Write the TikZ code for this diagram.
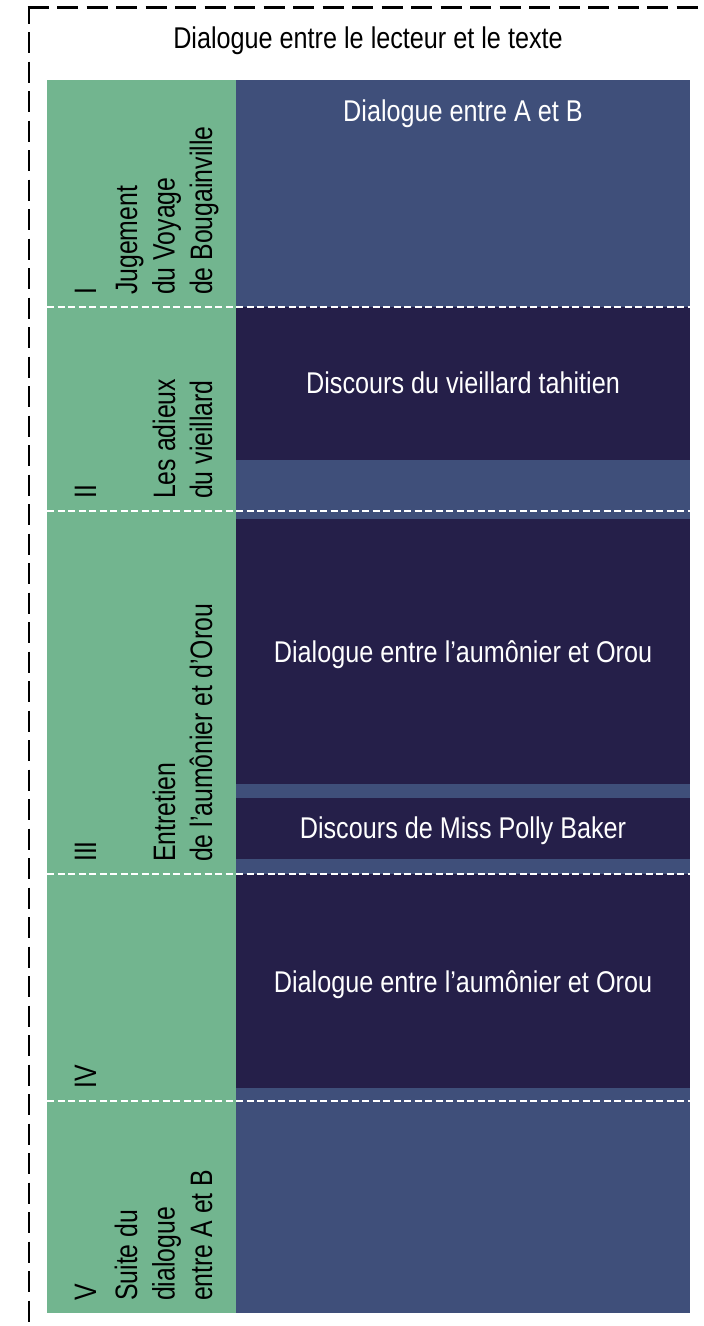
\documentclass[tikz,border=0pt]{standalone}
\usepackage{fontspec}
\setmainfont{Liberation Sans}
\newfontfamily\condfont[FakeStretch=0.84]{Liberation Sans}
\newfontfamily\labfont[FakeStretch=0.8]{Liberation Sans}
\definecolor{colgreen}{RGB}{114,181,143}
\definecolor{colblue}{RGB}{63,79,122}
\definecolor{coldark}{RGB}{37,31,73}
\begin{document}
\begin{tikzpicture}[x=1pt,y=-1pt,
  border/.style={draw=black,line width=2.8pt,dash pattern=on 21pt off 8.5pt},
  sepline/.style={draw=white,line width=2.2pt,dash pattern=on 7pt off 3.5pt},
  titletext/.style={inner sep=0pt,anchor=base,font=\condfont\fontsize{30}{36}\selectfont,text=black},
  bluetext/.style={inner sep=0pt,anchor=base,font=\condfont\fontsize{30}{36}\selectfont,text=white},
  labtext/.style={inner sep=0pt,anchor=base west,rotate=90,font=\labfont\fontsize{31}{36}\selectfont,text=black},
  numtext/.style={inner sep=0pt,anchor=base west,rotate=90,font=\labfont\fontsize{31}{36}\selectfont,text=black}]
\useasboundingbox (0,0) rectangle (704,1326);
\fill[white] (0,0) rectangle (704,1326);
\begin{scope}
\clip (0,0) rectangle (704,1326);
\coordinate (corner) at (29,7.5);
\coordinate (bottomend) at (29,1340);
\coordinate (rightend) at (720,7.5);
\draw[border,dash phase=5pt] (corner) -- (bottomend);
\draw[border] ([xshift=-1.4pt]corner) -- (rightend);
\end{scope}
% columns
\fill[colgreen] (47,80) rectangle (236,1313);
\fill[colblue] (236,80) rectangle (690,1313);
\fill[coldark] (236,307) rectangle (690,460);
\fill[coldark] (236,519) rectangle (690,784);
\fill[coldark] (236,798) rectangle (690,859);
\fill[coldark] (236,874) rectangle (690,1088);
% separators
\draw[sepline] (47,307) -- (690,307);
\draw[sepline] (47,511) -- (690,511);
\draw[sepline] (47,874) -- (690,874);
\draw[sepline] (47,1101) -- (690,1101);
% title
\node[titletext] (title) at (368,48) {Dialogue entre le lecteur et le texte};
% blue texts
\node[bluetext] (t1) at (463,121) {Dialogue entre A et B};
\node[bluetext] (t2) at (463,393) {Discours du vieillard tahitien};
\node[bluetext] (t3) at (463,662) {Dialogue entre l’aumônier et Orou};
\node[bluetext] (t3b) at (463,838) {Discours de Miss Polly Baker};
\node[bluetext] (t4) at (463,992) {Dialogue entre l’aumônier et Orou};
% numerals
\node[numtext] (n1) at (96,295) {I};
\node[numtext] (n2) at (96,499) {II};
\node[numtext] (n3) at (96,862) {III};
\node[numtext] (n4) at (96,1089) {IV};
\node[numtext] (n5) at (96,1301) {V};
% labels
\node[labtext] (l1a) at (137,295) {Jugement};
\node[labtext] (l1b) at (174.5,295) {du Voyage};
\node[labtext] (l1c) at (212,295) {de Bougainville};
\node[labtext] (l2a) at (175,499) {Les adieux};
\node[labtext] (l2b) at (212,499) {du vieillard};
\node[labtext] (l3a) at (175,862) {Entretien};
\node[labtext] (l3b) at (212,862) {de l’aumônier et d’Orou};
\node[labtext] (l5a) at (137,1301) {Suite du};
\node[labtext] (l5b) at (174.5,1301) {dialogue};
\node[labtext] (l5c) at (212,1301) {entre A et B};
\end{tikzpicture}
\end{document}
